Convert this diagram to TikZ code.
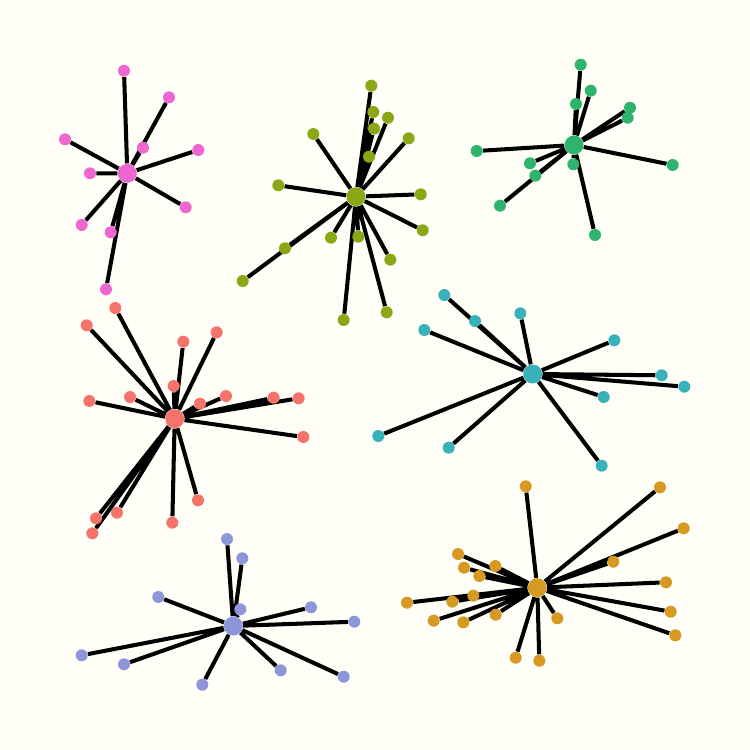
\documentclass[tikz,border=0pt]{standalone}
\usetikzlibrary{backgrounds}
\definecolor{paper}{HTML}{FFFFF8}
\definecolor{pinkc}{HTML}{EE67D0}
\definecolor{olivec}{HTML}{8AA815}
\definecolor{greenc}{HTML}{2FB46E}
\definecolor{salmonc}{HTML}{F6736A}
\definecolor{tealc}{HTML}{38B2B8}
\definecolor{lavc}{HTML}{8C96D8}
\definecolor{goldc}{HTML}{D69A22}
\pgfdeclarelayer{edges}
\pgfsetlayers{background,edges,main}
\tikzset{
  leaf/.style={circle,fill=#1,inner sep=0pt,minimum size=0.24cm},
  hub/.style={circle,fill=#1,inner sep=0pt,minimum size=0.38cm},
  link/.style={line width=2.3pt,black},
}

\begin{document}
\begin{tikzpicture}[x=0.02cm,y=-0.02cm]
\begin{pgfonlayer}{background}
\fill[paper] (0,0) rectangle (750,750);
\end{pgfonlayer}
\useasboundingbox (0,0) rectangle (750,750);

% pink star
\node[hub=pinkc] (p0) at (127.3,173.3) {};
\node[leaf=pinkc] (p1) at (124,70.7) {};
\node[leaf=pinkc] (p2) at (169,97.3) {};
\node[leaf=pinkc] (p3) at (65,139.3) {};
\node[leaf=pinkc] (p4) at (143,147.7) {};
\node[leaf=pinkc] (p5) at (198.3,150) {};
\node[leaf=pinkc] (p6) at (90,173.3) {};
\node[leaf=pinkc] (p7) at (185.7,207.3) {};
\node[leaf=pinkc] (p8) at (81.7,225) {};
\node[leaf=pinkc] (p9) at (110.7,232.3) {};
\node[leaf=pinkc] (p10) at (106,289.3) {};
\begin{pgfonlayer}{edges}
\draw[link] (p0) -- (p1) (p0) -- (p2) (p0) -- (p3) (p0) -- (p4) (p0) -- (p5)
  (p0) -- (p6) (p0) -- (p7) (p0) -- (p8) (p0) -- (p9) (p0) -- (p10);
\end{pgfonlayer}

% olive star
\node[hub=olivec] (o0) at (356,196.7) {};
\node[leaf=olivec] (o1) at (371.3,85.7) {};
\node[leaf=olivec] (o2) at (373.3,112) {};
\node[leaf=olivec] (o3) at (388,117.7) {};
\node[leaf=olivec] (o4) at (374,128.7) {};
\node[leaf=olivec] (o5) at (313.3,134) {};
\node[leaf=olivec] (o6) at (408.7,138.3) {};
\node[leaf=olivec] (o7) at (369,156.7) {};
\node[leaf=olivec] (o8) at (278.3,185.3) {};
\node[leaf=olivec] (o9) at (420.7,194.3) {};
\node[leaf=olivec] (o10) at (422.7,230.3) {};
\node[leaf=olivec] (o11) at (331,237.7) {};
\node[leaf=olivec] (o12) at (358.3,236.7) {};
\node[leaf=olivec] (o13) at (285,248.3) {};
\node[leaf=olivec] (o14) at (390.3,259.7) {};
\node[leaf=olivec] (o15) at (242.7,281) {};
\node[leaf=olivec] (o16) at (386.7,312.3) {};
\node[leaf=olivec] (o17) at (343.7,320) {};
\begin{pgfonlayer}{edges}
\draw[link] (o0) -- (o1) (o0) -- (o2) (o0) -- (o3) (o0) -- (o4) (o0) -- (o5)
  (o0) -- (o6) (o0) -- (o7) (o0) -- (o8) (o0) -- (o9) (o0) -- (o10)
  (o0) -- (o11) (o0) -- (o12) (o0) -- (o13) (o0) -- (o14) (o0) -- (o15)
  (o0) -- (o16) (o0) -- (o17);
\end{pgfonlayer}

% green star
\node[hub=greenc] (g0) at (574,145) {};
\node[leaf=greenc] (g1) at (580.7,64.7) {};
\node[leaf=greenc] (g2) at (590.7,90.7) {};
\node[leaf=greenc] (g3) at (576,104) {};
\node[leaf=greenc] (g4) at (630,107.7) {};
\node[leaf=greenc] (g5) at (627.7,117.7) {};
\node[leaf=greenc] (g6) at (476.7,151) {};
\node[leaf=greenc] (g7) at (672.7,165) {};
\node[leaf=greenc] (g8) at (530,163.3) {};
\node[leaf=greenc] (g9) at (573.3,164.3) {};
\node[leaf=greenc] (g10) at (535.3,175.7) {};
\node[leaf=greenc] (g11) at (500,205.7) {};
\node[leaf=greenc] (g12) at (595,235) {};
\begin{pgfonlayer}{edges}
\draw[link] (g0) -- (g1) (g0) -- (g2) (g0) -- (g3) (g0) -- (g4) (g0) -- (g5)
  (g0) -- (g6) (g0) -- (g7) (g0) -- (g8) (g0) -- (g9) (g0) -- (g10)
  (g0) -- (g11) (g0) -- (g12);
\end{pgfonlayer}

% salmon star
\node[hub=salmonc] (s0) at (174.7,418.7) {};
\node[leaf=salmonc] (s1) at (115.3,308) {};
\node[leaf=salmonc] (s2) at (86.7,325.3) {};
\node[leaf=salmonc] (s3) at (216.7,332.3) {};
\node[leaf=salmonc] (s4) at (183.3,341.7) {};
\node[leaf=salmonc] (s5) at (173.7,386) {};
\node[leaf=salmonc] (s6) at (89.3,401) {};
\node[leaf=salmonc] (s7) at (130,397) {};
\node[leaf=salmonc] (s8) at (226,396) {};
\node[leaf=salmonc] (s9) at (200,403.7) {};
\node[leaf=salmonc] (s10) at (273.7,397.7) {};
\node[leaf=salmonc] (s11) at (298.7,398.3) {};
\node[leaf=salmonc] (s12) at (303.3,437) {};
\node[leaf=salmonc] (s13) at (198,500.3) {};
\node[leaf=salmonc] (s14) at (117,512.7) {};
\node[leaf=salmonc] (s15) at (96,518.3) {};
\node[leaf=salmonc] (s16) at (172.3,522.7) {};
\node[leaf=salmonc] (s17) at (92.3,533.3) {};
\begin{pgfonlayer}{edges}
\draw[link] (s0) -- (s1) (s0) -- (s2) (s0) -- (s3) (s0) -- (s4) (s0) -- (s5)
  (s0) -- (s6) (s0) -- (s7) (s0) -- (s8) (s0) -- (s9) (s0) -- (s10)
  (s0) -- (s11) (s0) -- (s12) (s0) -- (s13) (s0) -- (s14) (s0) -- (s15)
  (s0) -- (s16) (s0) -- (s17);
\end{pgfonlayer}

% teal star
\node[hub=tealc] (t0) at (532.7,374) {};
\node[leaf=tealc] (t1) at (444.3,295) {};
\node[leaf=tealc] (t2) at (520.3,313.3) {};
\node[leaf=tealc] (t3) at (475,321) {};
\node[leaf=tealc] (t4) at (424.3,330) {};
\node[leaf=tealc] (t5) at (614.3,340.3) {};
\node[leaf=tealc] (t6) at (661.7,375.3) {};
\node[leaf=tealc] (t7) at (684.3,386.7) {};
\node[leaf=tealc] (t8) at (603.7,397) {};
\node[leaf=tealc] (t9) at (378.3,436) {};
\node[leaf=tealc] (t10) at (448.7,447.7) {};
\node[leaf=tealc] (t11) at (601.7,465.7) {};
\begin{pgfonlayer}{edges}
\draw[link] (t0) -- (t1) (t0) -- (t2) (t0) -- (t3) (t0) -- (t4) (t0) -- (t5)
  (t0) -- (t6) (t0) -- (t7) (t0) -- (t8) (t0) -- (t9) (t0) -- (t10)
  (t0) -- (t11);
\end{pgfonlayer}

% lavender star
\node[hub=lavc] (l0) at (233.3,626) {};
\node[leaf=lavc] (l1) at (227,539) {};
\node[leaf=lavc] (l2) at (242.3,558.3) {};
\node[leaf=lavc] (l3) at (158.3,597) {};
\node[leaf=lavc] (l4) at (240.3,609.3) {};
\node[leaf=lavc] (l5) at (311,607.3) {};
\node[leaf=lavc] (l6) at (354.3,621.7) {};
\node[leaf=lavc] (l7) at (81.7,655.3) {};
\node[leaf=lavc] (l8) at (124,664.3) {};
\node[leaf=lavc] (l9) at (280.7,670.3) {};
\node[leaf=lavc] (l10) at (343.7,676.7) {};
\node[leaf=lavc] (l11) at (202.3,684.7) {};
\begin{pgfonlayer}{edges}
\draw[link] (l0) -- (l1) (l0) -- (l2) (l0) -- (l3) (l0) -- (l4) (l0) -- (l5)
  (l0) -- (l6) (l0) -- (l7) (l0) -- (l8) (l0) -- (l9) (l0) -- (l10)
  (l0) -- (l11);
\end{pgfonlayer}

% gold star
\node[hub=goldc] (d0) at (537.3,587.7) {};
\node[leaf=goldc] (d1) at (525.7,486.3) {};
\node[leaf=goldc] (d2) at (660,487.3) {};
\node[leaf=goldc] (d3) at (683.7,528.3) {};
\node[leaf=goldc] (d4) at (458,554) {};
\node[leaf=goldc] (d5) at (464,567.7) {};
\node[leaf=goldc] (d6) at (495.3,566) {};
\node[leaf=goldc] (d7) at (613.3,561.7) {};
\node[leaf=goldc] (d8) at (479.3,576) {};
\node[leaf=goldc] (d9) at (666,582.3) {};
\node[leaf=goldc] (d10) at (407,602.7) {};
\node[leaf=goldc] (d11) at (452.3,601.7) {};
\node[leaf=goldc] (d12) at (473.3,595.7) {};
\node[leaf=goldc] (d13) at (670.7,611.7) {};
\node[leaf=goldc] (d14) at (433.7,620.7) {};
\node[leaf=goldc] (d15) at (463.3,622.3) {};
\node[leaf=goldc] (d16) at (495.7,614.7) {};
\node[leaf=goldc] (d17) at (557.3,618.3) {};
\node[leaf=goldc] (d18) at (675.3,635.3) {};
\node[leaf=goldc] (d19) at (515.7,657.7) {};
\node[leaf=goldc] (d20) at (539.3,660.7) {};
\begin{pgfonlayer}{edges}
\draw[link] (d0) -- (d1) (d0) -- (d2) (d0) -- (d3) (d0) -- (d4) (d0) -- (d5)
  (d0) -- (d6) (d0) -- (d7) (d0) -- (d8) (d0) -- (d9) (d0) -- (d10)
  (d0) -- (d11) (d0) -- (d12) (d0) -- (d13) (d0) -- (d14) (d0) -- (d15)
  (d0) -- (d16) (d0) -- (d17) (d0) -- (d18) (d0) -- (d19) (d0) -- (d20);
\end{pgfonlayer}
\end{tikzpicture}
\end{document}
